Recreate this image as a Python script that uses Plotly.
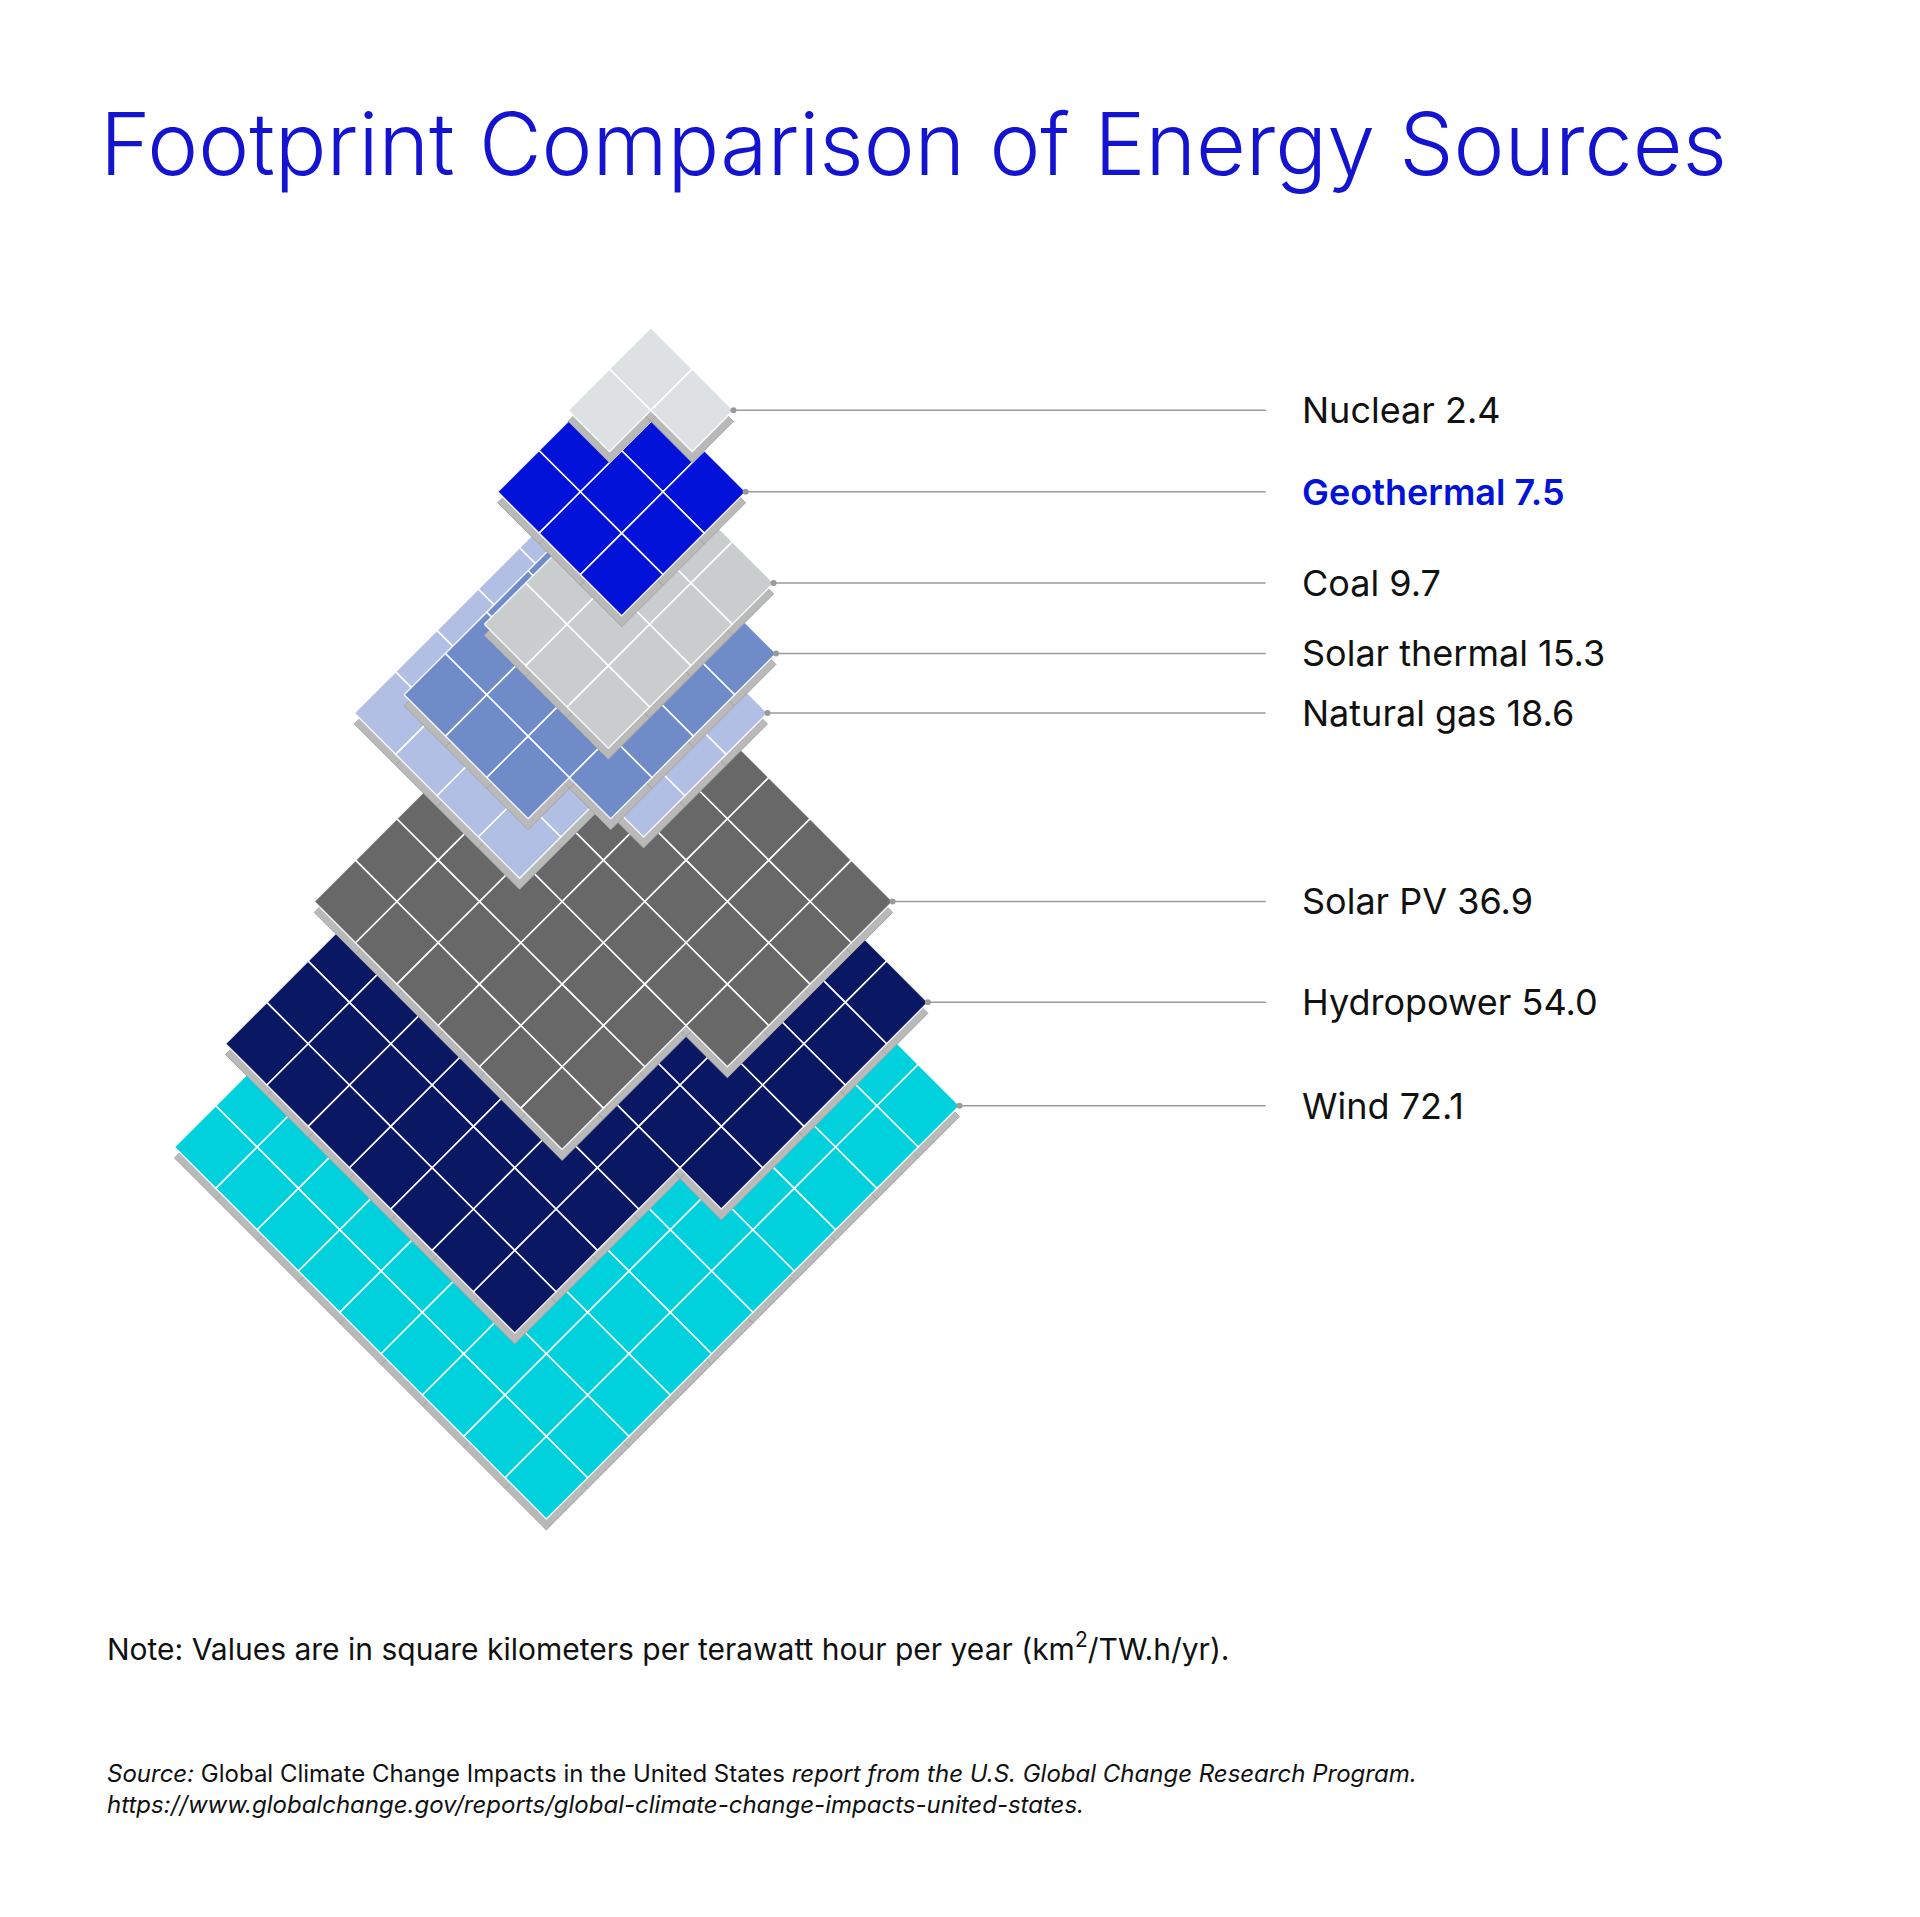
import math
import plotly.graph_objects as go

# ── Data ──────────────────────────────────────────────────────────────────────
sources = ["Wind", "Hydropower", "Solar PV", "Natural gas",
           "Solar thermal", "Coal", "Geothermal", "Nuclear"]
values = [72.1, 54.0, 36.9, 18.6, 15.3, 9.7, 7.5, 2.4]
colors = ["#00d1dd", "#0a1763", "#686868", "#b1bfe4",
          "#6f8bc8", "#c9cdcd", "#0212d8", "#dde1e1"]
# right-corner anchor of each stacked layer (display coords, y down)
anchors = [(783, 903), (757, 818), (728, 735), (625, 580),
           (632, 531), (630, 473), (607, 398), (597, 331)]

TILES_PER_UNIT = 1.25
S = 34       # tile edge step
T = 9        # slab thickness
W, H = 1580, 1577

fig = go.Figure()


def to_xy(x0, y0, u, v):
    return x0 + S * (u + v), y0 + S * (u - v)


for name, val, col, (xr, yr) in zip(sources, values, colors, anchors):
    n = round(val * TILES_PER_UNIT)
    nv = math.ceil(math.sqrt(n))
    nu = math.ceil(n / nv)
    missing = nu * nv - n
    x0 = xr - S * (nu + nv)
    y0 = yr - S * (nu - nv)
    tx, ty, sx, sy = [], [], [], []
    for i in range(nu):
        for j in range(nv):
            # leave the notch in the front row, away from the right corner
            if i == nu - 1 and j < missing:
                continue
            pts = [to_xy(x0, y0, i + a, j + b)
                   for a, b in [(0, 0), (1, 0), (1, 1), (0, 1), (0, 0)]]
            tx += [p[0] for p in pts] + [None]
            ty += [p[1] for p in pts] + [None]
            sx += [p[0] for p in pts] + [None]
            sy += [p[1] + T for p in pts] + [None]
    fig.add_trace(go.Scatter(x=sx, y=sy, mode="lines", fill="toself",
                             fillcolor="#b9b9b9", line=dict(color="#a6a6a6", width=1),
                             hoverinfo="skip", showlegend=False))
    fig.add_trace(go.Scatter(x=tx, y=ty, mode="lines", fill="toself",
                             fillcolor=col, line=dict(color="rgba(255,255,255,0.85)", width=1.5),
                             name=name, hoverinfo="name", showlegend=False))
    # connector + label
    fig.add_trace(go.Scatter(x=[xr, 1035], y=[yr, yr], mode="lines",
                             line=dict(color="#9a9a9a", width=1.5),
                             hoverinfo="skip", showlegend=False))
    fig.add_trace(go.Scatter(x=[xr], y=[yr], mode="markers",
                             marker=dict(color="#9a9a9a", size=6),
                             hoverinfo="skip", showlegend=False))
    geo = name == "Geothermal"
    fig.add_annotation(x=1063, y=yr, text=f"{name} {val:.1f}", showarrow=False,
                       xanchor="left", yanchor="middle",
                       font=dict(size=36, color="#0212d8" if geo else "#111111",
                                 family="Inter", weight=600 if geo else 400))

fig.add_annotation(x=74, y=112, text="Footprint Comparison of Energy Sources",
                   showarrow=False, xanchor="left", yanchor="middle",
                   font=dict(size=86, color="#1414d0", family="Inter", weight=300))
fig.add_annotation(x=80, y=1348,
                   text="Note: Values are in square kilometers per terawatt hour per year (km<sup>2</sup>/TW.h/yr).",
                   showarrow=False, xanchor="left", yanchor="middle",
                   font=dict(size=30, color="#111111", family="Inter"))
fig.add_annotation(x=80, y=1465,
                   text="<i>Source:</i> Global Climate Change Impacts in the United States <i>report from the U.S. Global Change Research Program.</i>"
                        "<br><i>https://www.globalchange.gov/reports/global-climate-change-impacts-united-states.</i>",
                   showarrow=False, xanchor="left", yanchor="middle", align="left",
                   font=dict(size=24, color="#111111", family="Inter"))

fig.update_xaxes(range=[0, W], visible=False, fixedrange=True)
fig.update_yaxes(range=[H, 0], visible=False, fixedrange=True)
fig.update_layout(width=1920, height=1917, margin=dict(l=0, r=0, t=0, b=0),
                  plot_bgcolor="white", paper_bgcolor="white")
fig.write_html("out.html")
